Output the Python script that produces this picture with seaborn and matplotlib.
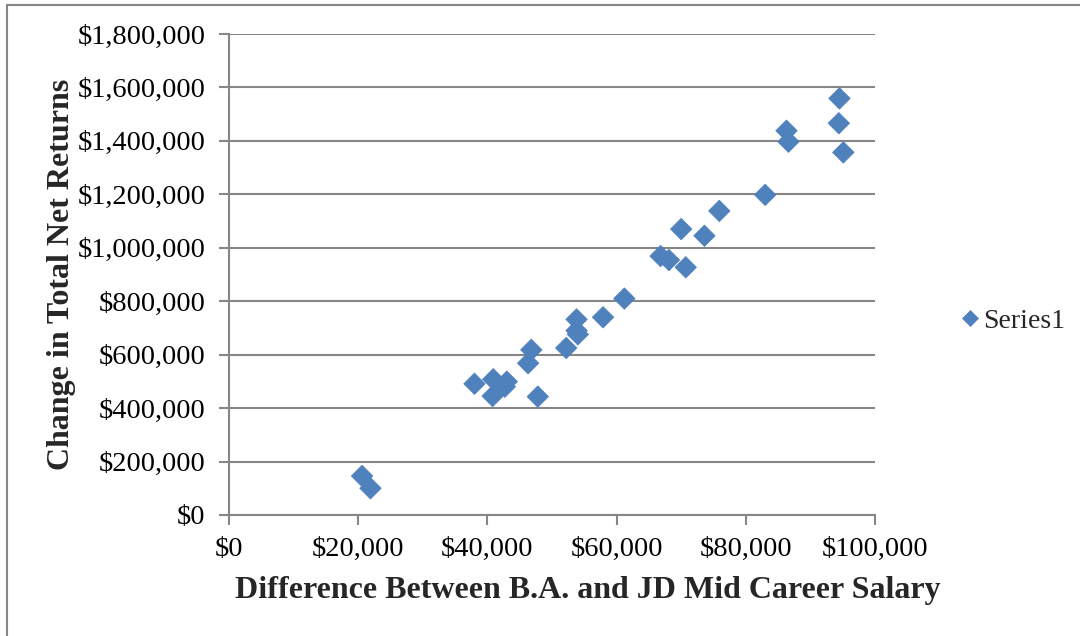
import matplotlib
matplotlib.use("Agg")
import matplotlib.pyplot as plt
import matplotlib.ticker as mticker
from matplotlib.patches import Rectangle
import seaborn as sns
import pandas as pd

# Data
salary_diff = [20.6, 21.9, 38.0, 40.9, 40.8, 43.0, 42.7, 47.8, 46.8, 46.3,
               52.2, 53.8, 53.8, 54.0, 57.9, 61.2, 66.8, 68.1, 70.7, 70.0,
               73.6, 75.9, 83.0, 86.3, 86.6, 94.5, 94.4, 95.1]  # thousands $
net_returns = [146, 100, 491, 508, 445, 499, 480, 443, 618, 568,
               625, 732, 690, 676, 740, 810, 969, 954, 927, 1070,
               1045, 1138, 1198, 1438, 1397, 1559, 1466, 1357]  # thousands $
series_name = "Series1"
x_title = "Difference Between B.A. and JD Mid Career Salary"
y_title = "Change in Total Net Returns"

df = pd.DataFrame({"x": [v * 1000 for v in salary_diff],
                   "y": [v * 1000 for v in net_returns],
                   "series": series_name})

sns.set_style("white")
plt.rcParams["font.family"] = ["Liberation Serif", "DejaVu Serif"]

fig = plt.figure(figsize=(10.8, 6.36), dpi=100)
ax = fig.add_axes([229 / 1080, 1 - 515 / 636, 646 / 1080, 481 / 636])

color = "#4F81BD"
sns.scatterplot(data=df, x="x", y="y", hue="series", palette=[color],
                marker="D", s=120, edgecolor=color, linewidth=0.5, ax=ax,
                zorder=3, legend=True)

ax.set_xlim(0, 100000)
ax.set_ylim(0, 1800000)
ax.xaxis.set_major_locator(mticker.MultipleLocator(20000))
ax.yaxis.set_major_locator(mticker.MultipleLocator(200000))
fmt = mticker.FuncFormatter(lambda v, p: "${:,.0f}".format(v))
ax.xaxis.set_major_formatter(fmt)
ax.yaxis.set_major_formatter(fmt)

gray = "#868686"
ax.grid(axis="y", color=gray, linewidth=1.5)
ax.grid(axis="x", visible=False)
ax.set_axisbelow(True)
for side in ["top", "right"]:
    ax.spines[side].set_visible(False)
for side in ["left", "bottom"]:
    ax.spines[side].set_color(gray)
    ax.spines[side].set_linewidth(1.5)

ax.tick_params(axis="both", which="major", direction="out", length=7,
               width=1.5, color=gray, labelsize=20.5, labelcolor="black")
ax.tick_params(axis="y", pad=10)
ax.tick_params(axis="x", pad=9)
ax.tick_params(bottom=True, left=True)

ax.set_xlabel(x_title, fontsize=23, fontweight="bold")
ax.set_ylabel(y_title, fontsize=23, fontweight="bold")
ax.xaxis.set_label_coords((588 - 229) / 646, (515 - 576) / 481)
ax.yaxis.set_label_coords((76 - 229) / 646, 0.5)

leg = ax.legend(loc="center left", bbox_to_anchor=(960 / 1080, 1 - 321 / 636),
                bbox_transform=fig.transFigure, frameon=False, fontsize=20,
                handlelength=0.7, handletextpad=0.15, markerscale=0.75,
                borderaxespad=0, borderpad=0)
for t in leg.get_texts():
    t.set_text(series_name)

fig.patches.append(Rectangle((7 / 1080, -0.1), 1.2, (1 - 5 / 636) + 0.1,
                             transform=fig.transFigure, fill=False,
                             edgecolor=gray, linewidth=1.5, clip_on=False))

fig.savefig("out.png", dpi=100)
